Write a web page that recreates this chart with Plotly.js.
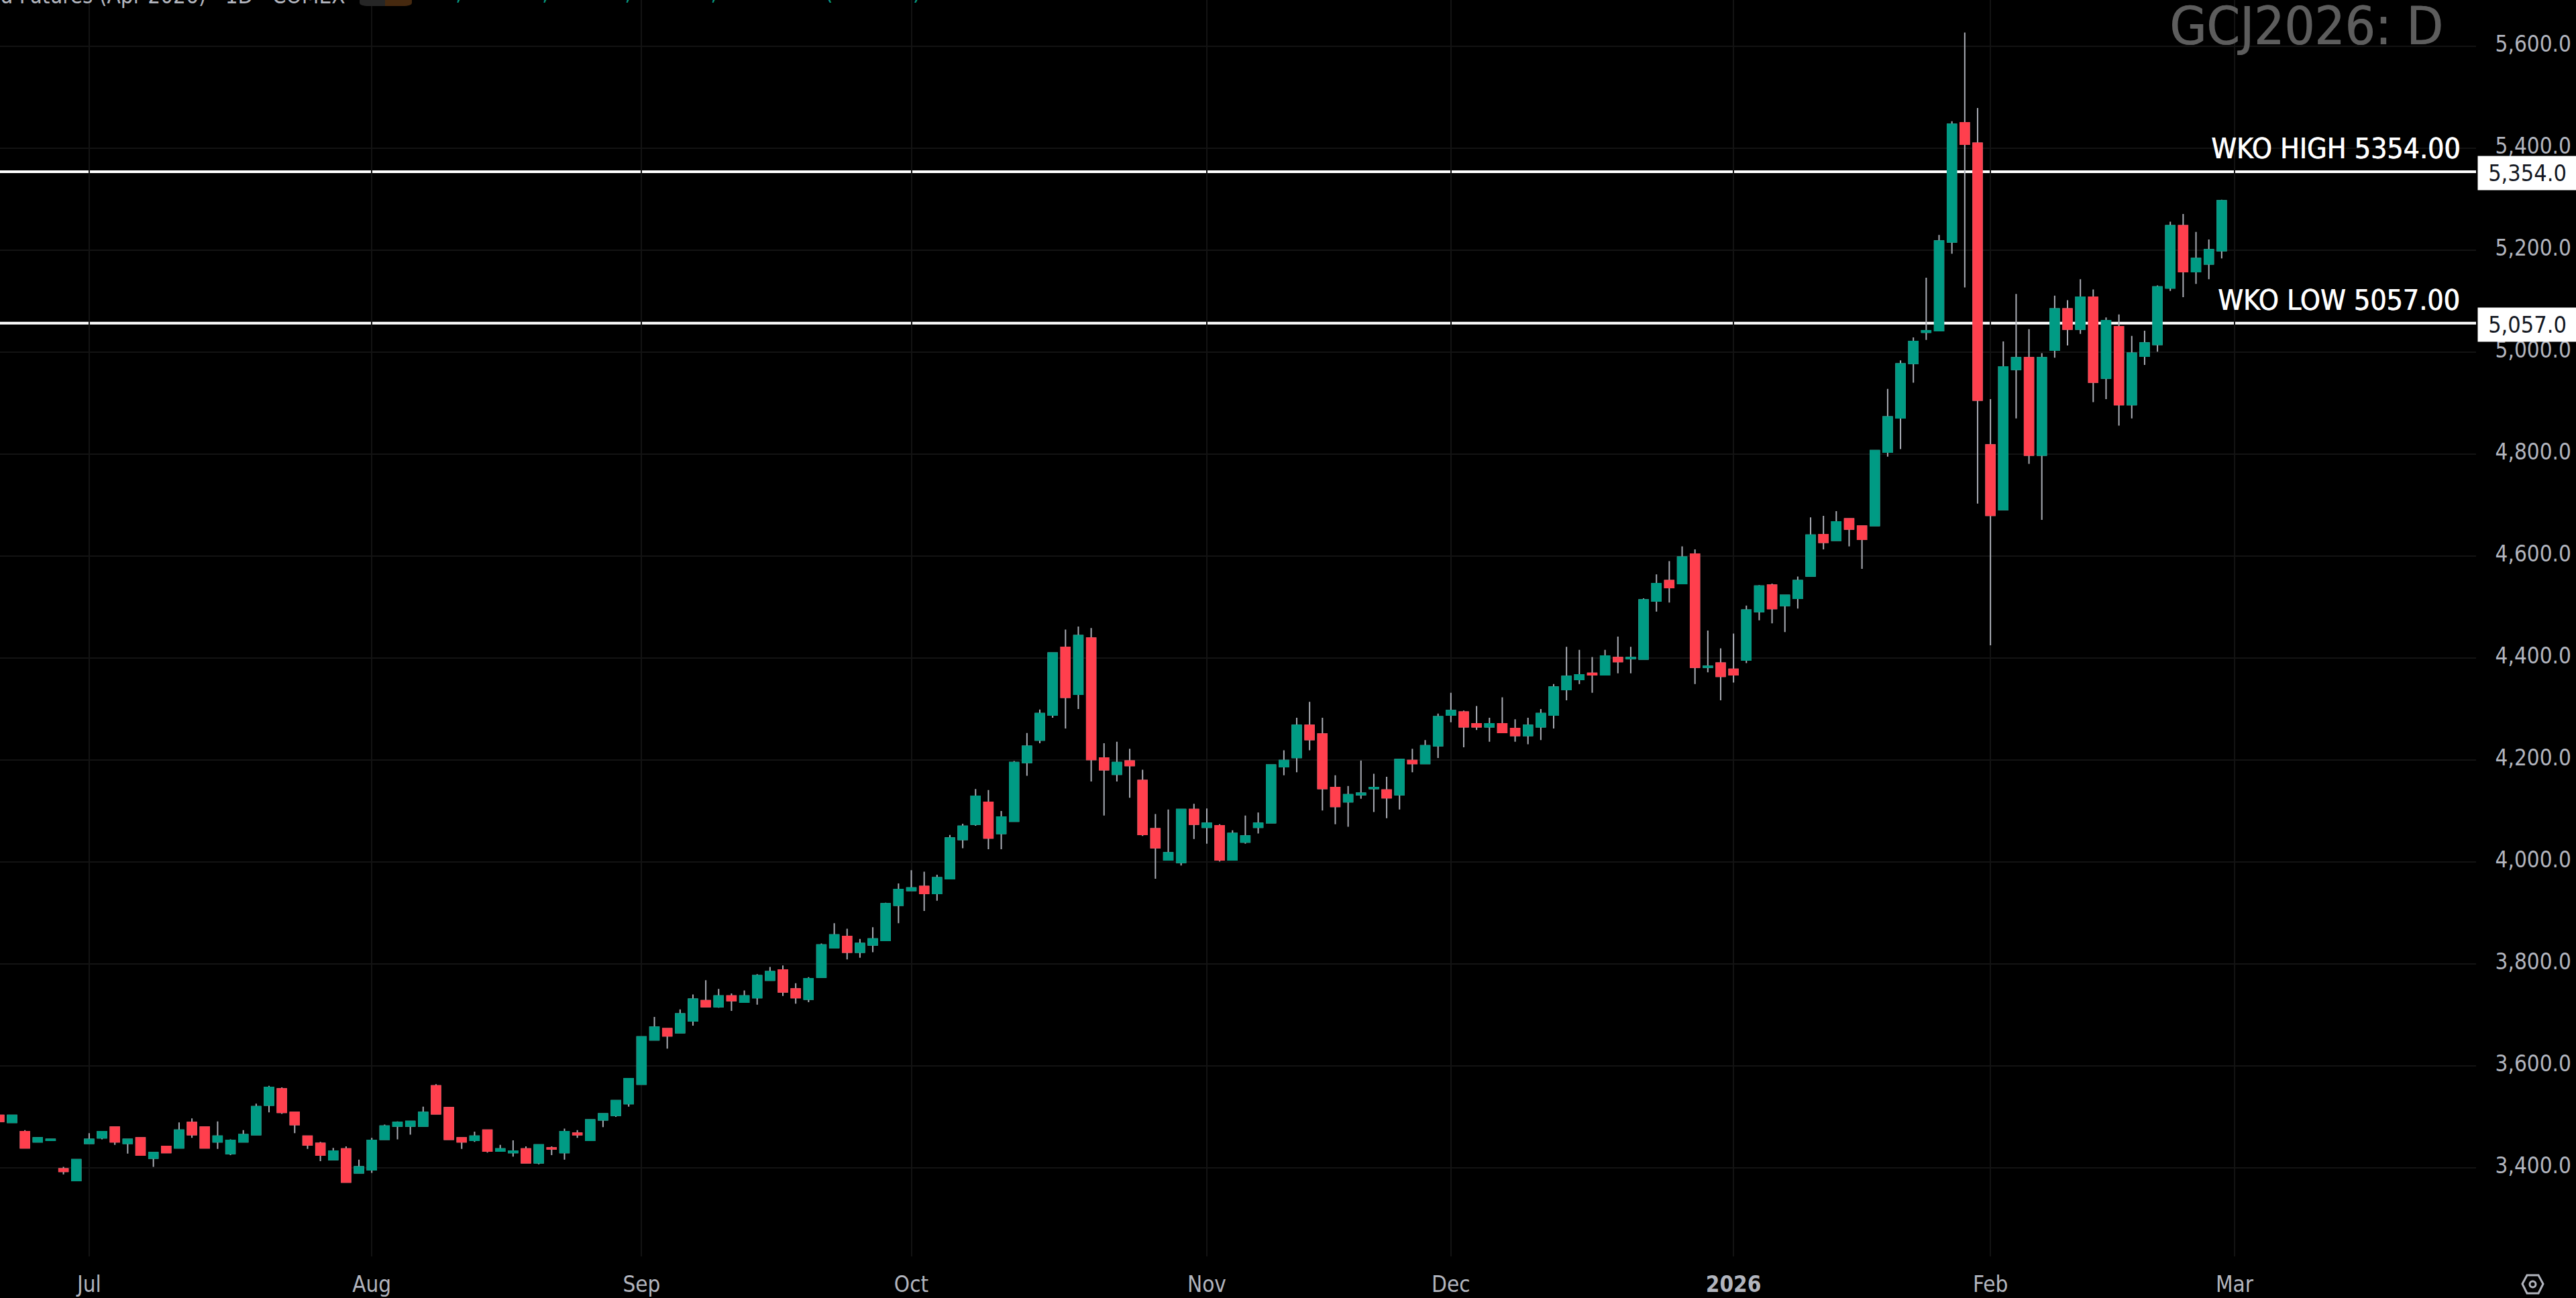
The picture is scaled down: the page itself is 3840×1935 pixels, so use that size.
<!DOCTYPE html>
<html><head><meta charset="utf-8">
<script src="https://cdn.plot.ly/plotly-3.0.1.min.js"></script>
<style>html,body{margin:0;padding:0;background:#000;overflow:hidden}#c{width:3840px;height:1935px}</style>
</head><body><div id="c"></div>
<script>
// Bars from 20 Jun 2025 to 27 Feb 2026; position 0 is the 1 Jul session
const firstBar = -7;
const opens = [3503,3489,3471,3451,3454,3398,3375,3448,3459,3480,3448,3459,3419,3442,3439,3489,3480,3451,3428,3451,3465,3523,3555,3509,3462,3448,3416,3437,3390,3396,3456,3482,3482,3482,3561,3518,3459,3454,3474,3433,3430,3437,3410,3439,3430,3468,3454,3494,3503,3526,3564,
3651,3673,3665,3688,3728,3716,3737,3725,3734,3768,3788,3751,3731,3774,3832,3854,3823,3837,3846,3915,3944,3952,3938,3967,4044,
4074,4117,4056,4080,4195,4239,4288,4421,4329,4439,4204,4172,4198,4160,4065,4004,3999,4103,4068,4071,4004,4039,4068,4077,
4187,4205,4268,4251,4146,4118,4132,4144,4141,4132,4199,4193,4228,4288,4294,4271,4265,4271,4262,4248,4265,4288,4338,4358,4370,4367,4401,4399,4398,4512,4552,4546,4604,4382,4390,4378,4396,4491,4543,4503,4517,
4561,4642,4631,4673,4659,4660,4804,4871,4978,5039,5042,5216,5450,5410,4818,4691,4966,4989,4798,5004,5085,5045,5108,4949,5050,4897,4992,5015,5126,5248,5158,5173,5199];
const highs = [3503,3503,3474,3459,3456,3402,3416,3468,3471,3480,3456,3459,3430,3442,3489,3497,3480,3491,3456,3474,3526,3561,3558,3509,3462,3451,3439,3442,3416,3459,3485,3491,3491,3520,3564,3518,3459,3471,3474,3445,3454,3442,3445,3442,3477,3474,3494,3506,3532,3575,3657,
3696,3673,3711,3740,3768,3751,3742,3748,3780,3794,3797,3762,3774,3840,3880,3869,3849,3872,3920,3958,3984,3981,3975,4053,4075,
4143,4141,4100,4198,4253,4299,4410,4456,4462,4459,4233,4236,4222,4181,4094,4103,4103,4114,4105,4074,4062,4091,4097,4190,
4219,4283,4314,4283,4170,4149,4199,4173,4167,4201,4222,4239,4291,4332,4297,4306,4283,4323,4280,4283,4300,4349,4422,4416,4402,4416,4442,4422,4517,4564,4590,4619,4613,4454,4419,4448,4503,4543,4546,4523,4560,
4676,4679,4688,4673,4659,4807,4928,4984,5029,5146,5230,5453,5627,5479,4908,5021,5114,5045,4998,5111,5102,5143,5123,5068,5074,5032,5042,5131,5256,5271,5236,5221,5299];
const lows = [3491,3489,3439,3451,3454,3387,3375,3448,3456,3445,3428,3425,3402,3430,3439,3459,3439,3437,3425,3451,3465,3509,3506,3468,3437,3413,3416,3372,3390,3390,3456,3456,3465,3482,3506,3456,3437,3451,3430,3433,3422,3410,3407,3425,3416,3459,3454,3480,3500,3520,3564,
3651,3634,3665,3679,3716,3714,3708,3725,3720,3768,3737,3722,3725,3774,3832,3809,3812,3823,3846,3880,3944,3904,3924,3967,4027,
4071,4025,4025,4080,4169,4233,4283,4262,4300,4158,4091,4158,4126,4051,3967,4004,3993,4045,4036,4001,4004,4036,4056,4077,
4170,4176,4219,4101,4074,4069,4124,4098,4086,4103,4176,4193,4204,4274,4225,4259,4236,4254,4236,4231,4239,4262,4317,4349,4332,4367,4370,4370,4398,4491,4509,4546,4349,4372,4317,4352,4390,4474,4468,4451,4497,
4561,4613,4631,4619,4575,4660,4795,4810,4940,5024,5042,5193,5127,4703,4425,4691,4870,4781,4671,4989,5013,5036,4902,4908,4856,4870,4975,5001,5120,5108,5134,5143,5184];
const closes = [3491,3503,3439,3459,3456,3393,3416,3456,3471,3451,3456,3425,3430,3430,3474,3465,3439,3462,3454,3465,3520,3558,3509,3485,3445,3425,3433,3372,3402,3454,3482,3489,3491,3509,3506,3456,3451,3462,3433,3437,3433,3410,3445,3437,3471,3465,3494,3506,3532,3575,3657,
3676,3659,3702,3731,3716,3737,3728,3737,3777,3785,3745,3734,3771,3837,3857,3823,3840,3849,3918,3946,3949,3938,3969,4047,4070,
4129,4047,4088,4195,4227,4291,4410,4323,4444,4201,4181,4195,4189,4054,4028,4018,4103,4074,4076,4004,4056,4051,4076,4190,
4199,4268,4240,4144,4109,4132,4135,4146,4126,4201,4193,4228,4285,4297,4265,4265,4271,4254,4248,4268,4291,4343,4364,4367,4367,4404,4393,4401,4514,4546,4538,4598,4382,4384,4364,4367,4494,4541,4497,4523,4552,
4641,4627,4667,4653,4633,4807,4873,4977,5021,5042,5218,5447,5408,4906,4680,4971,4989,4798,4989,5085,5045,5108,4941,5062,4897,4998,5018,5128,5248,5158,5184,5201,5297];
const monthLabels = ['Jul','Aug','Sep','Oct','Nov','Dec','<b>2026</b>','Feb','Mar'];
const monthBars = [0,22,43,64,87,106,128,148,167];
const priceTicks = [3400,3600,3800,4000,4200,4400,4600,4800,5000,5200,5400,5600];
const priceLabels = ['3,400.0','3,600.0','3,800.0','4,000.0','4,200.0','4,400.0','4,600.0','4,800.0','5,000.0','5,200.0','5,400.0','5,600.0'];
const levelValues = [5354,5057];
const levelTexts = ['WKO HIGH 5354.00','WKO LOW 5057.00'];
const levelTags = ['5,354.0','5,057.0'];
const legendTexts = ['O5,199.0','H5,299.0','L5,184.0','C5,297.0','+98.0','(+1.89%)'];

const FONT = '"DejaVu Sans Condensed","DejaVu Sans",sans-serif';
const GREY = '#b2b5be', UP = '#009b84', DOWN = '#ff3f4d', GRID = '#131313';
const PW = 3691, PH = 1873;
const px = x => x / PW, py = y => 1 - y / PH;
const xs = opens.map((_, i) => i + firstBar);
const bodyHigh = opens.map((o, i) => Math.max(o, closes[i]));
const bodyLow = opens.map((o, i) => Math.min(o, closes[i]));

const wicks = {type:'candlestick', x:xs, open:opens, high:highs, low:lows, close:closes, hoverinfo:'skip',
  increasing:{line:{color:'#a9acb4',width:2},fillcolor:'#a9acb4'},
  decreasing:{line:{color:'#a9acb4',width:2},fillcolor:'#a9acb4'}};
const bodies = {type:'candlestick', x:xs, open:opens, high:bodyHigh, low:bodyLow, close:closes, hoverinfo:'skip',
  increasing:{line:{color:UP,width:2},fillcolor:UP},
  decreasing:{line:{color:DOWN,width:2},fillcolor:DOWN}};

const annotations = [];
levelValues.forEach((v, i) => {
  annotations.push({xref:'paper', yref:'y', x:px(3669), y:v, xanchor:'right', yanchor:'bottom', yshift:8,
    text:levelTexts[i], showarrow:false, font:{family:FONT,size:42.5,color:'#ffffff',shadow:'0.8px 0 0 #ffffff'}});
  annotations.push({xref:'paper', yref:'y', x:1, y:v, xanchor:'left', yanchor:'middle', xshift:2, yshift:-2,
    width:147, height:50, borderpad:0, bgcolor:'#ffffff', align:'center', valign:'middle',
    text:levelTags[i], showarrow:false, font:{family:FONT,size:34,color:'#131722'}});
});
annotations.push({xref:'paper', yref:'paper', x:px(3644), y:py(39), xanchor:'right', yanchor:'middle',
  text:'GCJ2026: D', showarrow:false, font:{family:FONT,size:79,color:'#5d5d5d',shadow:'1px 0 0 #5d5d5d'}});
annotations.push({xref:'paper', yref:'paper', x:px(517), y:py(15), xanchor:'right', yanchor:'bottom',
  text:'Gold Futures (Apr 2026) · 1D · COMEX', showarrow:false, font:{family:FONT,size:33,color:GREY}});
const legendStarts = [635,765,894,1018,1140,1228];
legendTexts.forEach((t, i) => annotations.push({xref:'paper', yref:'paper', x:px(legendStarts[i]), y:py(10), xanchor:'left', yanchor:'bottom',
  text:t, showarrow:false, font:{family:FONT,size:33,color:'#089981'}}));

const shapes = levelValues.map(v => ({type:'line', xref:'paper', yref:'y', x0:0, x1:1, y0:v, y1:v, layer:'below',
  line:{color:'#ffffff',width:4}}));
const pill = (a, b, rl, rr, c) => ({type:'path', xref:'paper', yref:'paper', layer:'above', line:{width:0}, fillcolor:c,
  path:`M${px(a)},${py(0)} L${px(a)},${py(4)} Q${px(a)},${py(9)} ${px(a+rl)},${py(9)} L${px(b-rr)},${py(9)} Q${px(b)},${py(9)} ${px(b)},${py(4)} L${px(b)},${py(0)} Z`});
shapes.push(pill(536,574,14,0,'#262626'), pill(574,614,0,14,'#46290f'));
shapes.push({type:'path', xref:'paper', yref:'paper', layer:'above', line:{color:GREY,width:3}, fillcolor:'rgba(0,0,0,0)',
  path:`M${px(3760)},${py(1914)} L${px(3767)},${py(1901)} L${px(3784)},${py(1901)} L${px(3791)},${py(1914)} L${px(3784)},${py(1928)} L${px(3767)},${py(1928)} Z`});
shapes.push({type:'circle', xref:'paper', yref:'paper', layer:'above', line:{color:GREY,width:3}, fillcolor:'rgba(0,0,0,0)',
  x0:px(3771), x1:px(3780), y0:py(1919), y1:py(1910)});

Plotly.newPlot('c', [wicks, bodies], {
  width:3840, height:1935, paper_bgcolor:'#000', plot_bgcolor:'#000', showlegend:false,
  margin:{l:0,r:149,t:0,b:62,pad:0}, boxgap:0.3, boxgroupgap:0, boxmode:'overlay',
  font:{family:FONT,size:33,color:GREY},
  xaxis:{type:'linear', range:[-6.94,185.8], rangeslider:{visible:false}, tickmode:'array', tickvals:monthBars, ticktext:monthLabels,
    showgrid:true, gridcolor:GRID, gridwidth:2, zeroline:false, showline:false, ticks:'outside', ticklen:12, tickcolor:'rgba(0,0,0,0)',
    tickangle:0, tickfont:{family:FONT,size:33,color:GREY}},
  yaxis:{side:'right', range:[3226.3,5690.8], tickmode:'array', tickvals:priceTicks, ticktext:priceLabels, ticklabelshift:-4,
    showgrid:true, gridcolor:GRID, gridwidth:2, zeroline:false, showline:false, ticks:'outside', ticklen:21, tickcolor:'rgba(0,0,0,0)',
    tickfont:{family:FONT,size:33,color:GREY}},
  shapes, annotations
}, {displayModeBar:false, staticPlot:true});
</script></body></html>
